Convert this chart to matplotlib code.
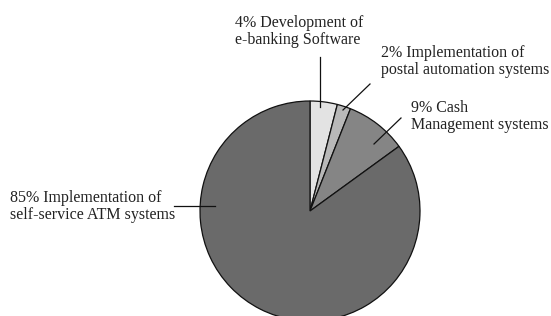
import matplotlib.pyplot as plt
import matplotlib as mpl

mpl.rcParams['font.family'] = ['Liberation Serif', 'DejaVu Serif']
mpl.rcParams['font.size'] = 11.5

# data
labels = ['4% Development of\ne-banking Software',
          '2% Implementation of\npostal automation systems',
          '9% Cash\nManagement systems',
          '85% Implementation of\nself-service ATM systems']
shares = [4, 2, 9, 85]
colors = ['#e3e3e3', '#b8b8b8', '#858585', '#6a6a6a']

# label placement in pixel coords (x, y from top), leader line (start, end)
text_pos = [(235, 15), (381, 45), (411, 100), (10, 190)]
leaders = [((320, 57), (320, 107)), ((370, 84), (343, 110)),
           ((401, 118), (374, 144)), ((174, 206), (215, 206))]

W, H = 551, 316
fig = plt.figure(figsize=(W / 100, H / 100), dpi=100)
ax = fig.add_axes([0, 0, 1, 1])

ax.pie(shares, colors=colors, startangle=90, counterclock=False,
       center=(310, H - 211), radius=110, frame=True,
       wedgeprops=dict(edgecolor='#111111', linewidth=0.9))
ax.set_xlim(0, W)
ax.set_ylim(0, H)
ax.set_aspect('equal')
ax.axis('off')

for lab, (tx, ty), (p0, p1) in zip(labels, text_pos, leaders):
    ax.text(tx, H - ty, lab, ha='left', va='top', color='#222222',
            linespacing=1.05)
    ax.plot([p0[0], p1[0]], [H - p0[1], H - p1[1]], color='#111111', lw=0.9)

fig.savefig('out.png', dpi=100)
